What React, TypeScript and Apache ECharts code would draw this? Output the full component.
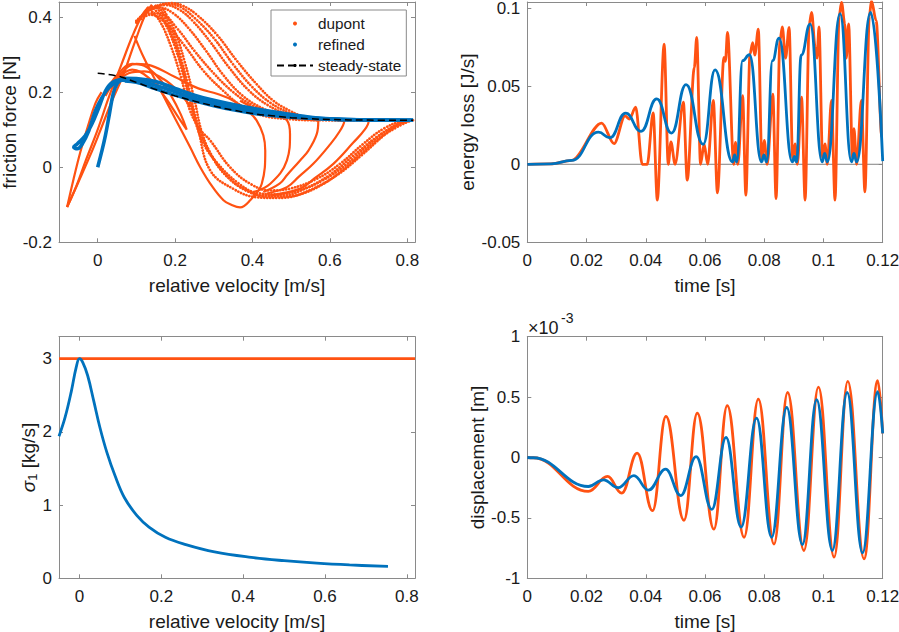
import React, { useEffect, useRef } from "react";
import * as echarts from "echarts";

const ORANGE = "#FF5212";
const BLUE = "#0072BD";
const AXIS = "#8a8a8a";
const TXT = "#1a1a1a";
const FONT = "'Liberation Sans', Arial, Helvetica, sans-serif";

// ---------- tick labels ----------
const velTicks = [0, 0.2, 0.4, 0.6, 0.8];
const forceTicks = [-0.2, 0, 0.2, 0.4];
const timeTicks = [0, 0.02, 0.04, 0.06, 0.08, 0.1, 0.12];
const lossTicks = [-0.05, 0, 0.05, 0.1];
const sigmaTicks = [0, 1, 2, 3];
const dispTicks = [-1, -0.5, 0, 0.5, 1];

// ---------- panel 1: friction force vs relative velocity ----------
const steadyState = [
  [0, 0.25], [0.05, 0.243], [0.1, 0.226], [0.15, 0.207], [0.2, 0.19], [0.25, 0.176],
  [0.3, 0.163], [0.35, 0.152], [0.4, 0.143], [0.45, 0.137], [0.5, 0.132], [0.55, 0.129],
  [0.6, 0.127], [0.7, 0.1255], [0.815, 0.125],
];

// dupont, dense (solid-looking) branches
const dupontFanA = [[-0.079, -0.106], [-0.05, -0.04], [-0.02, 0.03], [0.003, 0.088], [0.037, 0.177], [0.063, 0.238], [0.097, 0.336], [0.123, 0.406], [0.14, 0.433]];
const dupontFanB = [[-0.079, -0.106], [-0.055, -0.05], [-0.03, 0.02], [0.0, 0.1], [0.03, 0.19], [0.06, 0.27], [0.09, 0.35], [0.115, 0.405], [0.13, 0.425]];
const dupontFanC = [[-0.079, -0.106], [-0.062, -0.03], [-0.045, 0.04], [-0.025, 0.11], [-0.006, 0.17], [0.01, 0.2]];
const dupontSmallLoop = [[0.02, 0.2], [0.05, 0.245], [0.089, 0.275], [0.12, 0.27], [0.16, 0.235], [0.19, 0.19], [0.215, 0.14], [0.23, 0.1], [0.209, 0.132], [0.175, 0.185], [0.132, 0.238], [0.089, 0.26], [0.05, 0.235], [0.02, 0.2]];
const dupontSmallArc = [[0.04, 0.21], [0.08, 0.25], [0.12, 0.255], [0.17, 0.235], [0.21, 0.2], [0.24, 0.16]];
const dupontSLoop = [[0.02, 0.19], [0.06, 0.25], [0.1, 0.275], [0.14, 0.27], [0.2, 0.24], [0.26, 0.21], [0.31, 0.195], [0.351, 0.177], [0.39, 0.148], [0.411, 0.124], [0.428, 0.085], [0.433, 0.044], [0.424, -0.044], [0.394, -0.088], [0.368, -0.107], [0.345, -0.1], [0.325, -0.088], [0.295, -0.05], [0.265, 0.0], [0.239, 0.053], [0.2, 0.13], [0.16, 0.21], [0.12, 0.29], [0.095, 0.35]];
const dupontTip50 = [[0.368, 0.177], [0.42, 0.15], [0.454, 0.141], [0.489, 0.125], [0.497, 0.088], [0.489, 0.018], [0.446, -0.044], [0.403, -0.066]];
const dupontTip57 = [[0.5, 0.132], [0.55, 0.126], [0.57, 0.122], [0.566, 0.088], [0.545, 0.045], [0.523, 0.018], [0.49, -0.02], [0.47, -0.044], [0.428, -0.066]];
const dupontTip64 = [[0.58, 0.128], [0.62, 0.125], [0.637, 0.122], [0.625, 0.095], [0.6, 0.06], [0.557, 0.009], [0.52, -0.025], [0.489, -0.053], [0.437, -0.07]];
const dupontTip70 = [[0.65, 0.127], [0.685, 0.125], [0.7, 0.122], [0.69, 0.1], [0.66, 0.065], [0.609, 0.009], [0.56, -0.03], [0.523, -0.057], [0.446, -0.075]];

// dupont, fast (dotted-looking) branches
const dupontArc1 = [[0.12, 0.41], [0.15, 0.428], [0.192, 0.437], [0.22, 0.43], [0.256, 0.406], [0.308, 0.353], [0.36, 0.283], [0.411, 0.221], [0.454, 0.177], [0.497, 0.15], [0.523, 0.138], [0.56, 0.13], [0.62, 0.127], [0.7, 0.1255], [0.78, 0.125], [0.815, 0.125]];
const dupontArc5 = [[0.115, 0.405], [0.145, 0.426], [0.185, 0.435], [0.215, 0.426], [0.25, 0.398], [0.3, 0.344], [0.35, 0.274], [0.4, 0.213], [0.447, 0.171], [0.493, 0.146], [0.53, 0.134], [0.58, 0.128], [0.65, 0.126], [0.75, 0.125]];
const dupontArc2 = [[0.11, 0.4], [0.14, 0.422], [0.175, 0.432], [0.21, 0.42], [0.245, 0.39], [0.29, 0.335], [0.34, 0.265], [0.39, 0.205], [0.44, 0.165], [0.49, 0.142], [0.54, 0.131], [0.6, 0.127], [0.7, 0.1255], [0.78, 0.125]];
const dupontArc3 = [[0.1, 0.39], [0.13, 0.415], [0.16, 0.425], [0.195, 0.41], [0.235, 0.37], [0.28, 0.31], [0.325, 0.245], [0.375, 0.19], [0.43, 0.155], [0.48, 0.137], [0.54, 0.129], [0.6, 0.126], [0.7, 0.125]];
const dupontArc6 = [[0.1, 0.387], [0.133, 0.41], [0.165, 0.408], [0.205, 0.37], [0.25, 0.31], [0.3, 0.25], [0.35, 0.2], [0.4, 0.165], [0.455, 0.143], [0.52, 0.13], [0.58, 0.126], [0.66, 0.125]];
const dupontArc4 = [[0.1, 0.385], [0.136, 0.406], [0.17, 0.389], [0.222, 0.327], [0.274, 0.256], [0.325, 0.203], [0.377, 0.159], [0.428, 0.137], [0.497, 0.128], [0.57, 0.125], [0.64, 0.125]];
const dupontLow1 = [[0.13, 0.425], [0.16, 0.39], [0.19, 0.32], [0.215, 0.24], [0.239, 0.15], [0.265, 0.1], [0.291, 0.071], [0.342, 0.0], [0.394, -0.044], [0.446, -0.062], [0.497, -0.057], [0.566, -0.031], [0.626, 0.009], [0.686, 0.062], [0.738, 0.102], [0.79, 0.124], [0.811, 0.126]];
const dupontLow4 = [[0.14, 0.428], [0.17, 0.39], [0.2, 0.32], [0.225, 0.23], [0.25, 0.13], [0.275, 0.06], [0.31, 0.01], [0.36, -0.04], [0.41, -0.068], [0.46, -0.072], [0.52, -0.062], [0.58, -0.036], [0.64, 0.005], [0.7, 0.06], [0.75, 0.1], [0.79, 0.122]];
const dupontLow2 = [[0.15, 0.43], [0.18, 0.38], [0.21, 0.3], [0.235, 0.2], [0.26, 0.11], [0.29, 0.04], [0.33, -0.02], [0.38, -0.06], [0.43, -0.075], [0.48, -0.075], [0.54, -0.055], [0.6, -0.02], [0.66, 0.03], [0.72, 0.08], [0.77, 0.112], [0.8, 0.125]];
const dupontLow5 = [[0.17, 0.42], [0.2, 0.36], [0.225, 0.28], [0.25, 0.18], [0.27, 0.09], [0.3, 0.02], [0.34, -0.03], [0.39, -0.065], [0.44, -0.078], [0.49, -0.078], [0.55, -0.06], [0.62, -0.02], [0.68, 0.03], [0.74, 0.085], [0.78, 0.115], [0.815, 0.125]];
const dupontLow3 = [[0.16, 0.425], [0.19, 0.37], [0.215, 0.29], [0.24, 0.19], [0.26, 0.1], [0.291, -0.009], [0.351, -0.058], [0.411, -0.08], [0.463, -0.082], [0.515, -0.075], [0.584, -0.044], [0.652, 0.009], [0.72, 0.071], [0.772, 0.106], [0.811, 0.125]];

// refined
const refinedStart = [[0, 0], [0.01, 0.04], [0.02, 0.085], [0.03, 0.14], [0.04, 0.195], [0.05, 0.222], [0.065, 0.235]];
const refinedLoop = [[0.063, 0.234], [0.037, 0.225], [0.02, 0.203], [0.003, 0.159], [-0.015, 0.115], [-0.032, 0.084], [-0.053, 0.062], [-0.062, 0.053], [-0.053, 0.049], [-0.04, 0.062], [-0.023, 0.097], [-0.006, 0.15], [0.011, 0.185], [0.029, 0.212], [0.05, 0.228]];
const refinedUpper = [[0.05, 0.228], [0.07, 0.237], [0.1, 0.236], [0.15, 0.228], [0.2, 0.21], [0.25, 0.192], [0.3, 0.178], [0.35, 0.167], [0.4, 0.157], [0.45, 0.148], [0.5, 0.14], [0.55, 0.133], [0.6, 0.129], [0.7, 0.126], [0.815, 0.125]];
const refinedMid = [[0.06, 0.232], [0.1, 0.231], [0.15, 0.218], [0.2, 0.201], [0.25, 0.184], [0.3, 0.171], [0.35, 0.16], [0.4, 0.15], [0.45, 0.143], [0.5, 0.136], [0.6, 0.128], [0.7, 0.126], [0.815, 0.125]];
const refinedLower = [[0.07, 0.23], [0.1, 0.226], [0.15, 0.209], [0.2, 0.192], [0.25, 0.177], [0.3, 0.164], [0.35, 0.153], [0.4, 0.144], [0.45, 0.138], [0.5, 0.133], [0.6, 0.128], [0.7, 0.126], [0.815, 0.125]];

// ---------- panel 2: energy loss vs time ----------
const lossDupont = [
  [0, 0], [0.008, 0.0003], [0.015, 0.0025], [0.0251, 0.0264], [0.0293, 0.0132], [0.033, 0.031],
  [0.0345, 0.029], [0.0366, 0.0366], [0.0388, 0], [0.0405, 0], [0.0425, 0.033], [0.0439, -0.023],
  [0.0462, 0.077], [0.0476, 0], [0.0485, 0.0143], [0.0499, 0], [0.0527, 0.0398], [0.054, -0.0102],
  [0.0564, 0.062], [0.0572, 0.0813], [0.0585, 0], [0.0597, 0.013], [0.0609, 0], [0.0628, 0.041],
  [0.0642, -0.0183], [0.0664, 0.0685], [0.0669, 0.066], [0.0676, 0.0845], [0.0697, 0], [0.0703, 0.014],
  [0.0711, 0], [0.0727, 0.044], [0.0738, -0.0198], [0.0752, 0.0707], [0.0761, 0.078], [0.0768, 0.07],
  [0.078, 0.0866], [0.0792, 0.003], [0.08, 0.0153], [0.081, 0], [0.0829, 0.045], [0.084, -0.022],
  [0.0853, 0.079], [0.0861, 0.088], [0.0872, 0.068], [0.0884, 0.0877], [0.0896, 0.004], [0.0904, 0.013],
  [0.0912, 0], [0.0926, 0.043], [0.0938, -0.023], [0.0952, 0.09], [0.096, 0.0973], [0.0972, 0.075],
  [0.0978, 0.068], [0.0985, 0.088], [0.0997, 0.004], [0.1005, 0.013], [0.1013, 0], [0.1027, 0.041],
  [0.1039, -0.023], [0.1053, 0.095], [0.1061, 0.1037], [0.1072, 0.09], [0.1077, 0.068], [0.1085, 0.09],
  [0.1098, 0.004], [0.1103, 0.0228], [0.1112, 0], [0.1128, 0.041], [0.114, -0.0177], [0.1155, 0.095],
  [0.1162, 0.1047], [0.1178, 0.092], [0.1197, 0.0175], [0.12, 0.0175],
];
const lossRefined = [
  [0, 0], [0.008, 0.0003], [0.015, 0.0025], [0.024, 0.0206], [0.0279, 0.017], [0.0332, 0.0328],
  [0.0384, 0.0211], [0.0437, 0.0419], [0.0487, 0.02], [0.0536, 0.0511], [0.0594, 0.0128], [0.0634, 0.0605],
  [0.0693, 0.0015], [0.07, 0.006], [0.0707, 0.0015], [0.0727, 0.0664], [0.075, 0.0702], [0.0791, 0.0015],
  [0.0799, 0.006], [0.0808, 0.0015], [0.0828, 0.0664], [0.085, 0.0809], [0.0895, 0.0015], [0.0902, 0.005],
  [0.0909, 0.0015], [0.0925, 0.07], [0.0955, 0.0898], [0.0996, 0.0015], [0.1004, 0.007], [0.1013, 0.0015],
  [0.1056, 0.0966], [0.1095, 0.0015], [0.1103, 0.007], [0.1112, 0.0015], [0.1159, 0.0973], [0.12, 0.002],
];
const lossZero = [[0, 0], [0.12, 0]];

// ---------- panel 3: sigma_1 vs relative velocity ----------
const sigmaDupont = [[-0.05, 3], [0.82, 3]];
const sigmaRefined = [
  [-0.05, 1.94], [-0.035, 2.2], [-0.02, 2.55], [-0.008, 2.88], [0, 3.0], [0.008, 2.95], [0.02, 2.77],
  [0.035, 2.42], [0.05, 2.06], [0.067, 1.72], [0.087, 1.4], [0.11, 1.1], [0.14, 0.86], [0.17, 0.7],
  [0.21, 0.56], [0.26, 0.46], [0.33, 0.36], [0.42, 0.285], [0.5, 0.24], [0.58, 0.206], [0.66, 0.182],
  [0.754, 0.162],
];

// ---------- panel 4: displacement (x 1e-3 m) vs time ----------
const dispDupont = [
  [0, 0], [0.002, -0.002], [0.0206, -0.28], [0.0271, -0.157], [0.0319, -0.295], [0.0371, 0.036], [0.0423, -0.44],
  [0.0468, 0.34], [0.0529, -0.52], [0.0574, 0.367], [0.063, -0.593], [0.0675, 0.43], [0.0732, -0.66],
  [0.078, 0.483], [0.0833, -0.717], [0.0879, 0.538], [0.0934, -0.77], [0.0983, 0.583], [0.1036, -0.825],
  [0.1082, 0.63], [0.1137, -0.84], [0.1183, 0.637], [0.12, 0.2],
];
const dispRefined = [
  [0, 0], [0.002, -0.002], [0.0206, -0.24], [0.0257, -0.185], [0.0307, -0.25], [0.036, -0.15], [0.0409, -0.27],
  [0.0467, -0.097], [0.0518, -0.315], [0.057, 0.008], [0.0623, -0.43], [0.0671, 0.166], [0.0722, -0.576],
  [0.0774, 0.326], [0.0825, -0.66], [0.0876, 0.414], [0.0929, -0.72], [0.0977, 0.478], [0.103, -0.77],
  [0.108, 0.538], [0.1132, -0.79], [0.1183, 0.546], [0.12, 0.2],
];

const dupontSolid = [dupontFanA, dupontFanB, dupontFanC, dupontSmallLoop, dupontSmallArc, dupontSLoop, dupontTip50, dupontTip57, dupontTip64, dupontTip70];
const dupontDotted = [dupontArc1, dupontArc5, dupontArc2, dupontArc3, dupontArc6, dupontArc4, dupontLow1, dupontLow4, dupontLow2, dupontLow5, dupontLow3];
const refinedBand = [refinedStart, refinedLoop, refinedUpper, refinedMid, refinedLower];

function makeAxes(g: number, xr: number[], yr: number[], xt: number[], yt: number[], xName: string, yName: string, xGap: number, yGap: number, yRich?: any) {
  const line = { show: true, onZero: false, lineStyle: { color: AXIS, width: 1 } };
  const tick = (vals: number[]) => ({ show: true, inside: true, length: 4, lineStyle: { color: AXIS, width: 1 }, customValues: vals });
  const label = (vals: number[], margin: number) => ({
    show: true, customValues: vals, fontSize: 17, color: TXT, fontFamily: FONT, margin,
    formatter: (v: number) => String(v),
  });
  const nameStyle = { fontSize: 19, color: TXT, fontFamily: FONT };
  const xs = [
    {
      type: "value", gridIndex: g, position: "bottom", min: xr[0], max: xr[1],
      axisLine: line, axisTick: tick(xt), axisLabel: label(xt, 10), splitLine: { show: false },
      name: xName, nameLocation: "middle", nameGap: xGap, nameTextStyle: nameStyle,
    },
    {
      type: "value", gridIndex: g, position: "top", min: xr[0], max: xr[1],
      axisLine: line, axisTick: tick(xt), axisLabel: { show: false }, splitLine: { show: false },
    },
  ];
  const ys = [
    {
      type: "value", gridIndex: g, position: "left", min: yr[0], max: yr[1],
      axisLine: line, axisTick: tick(yt), axisLabel: label(yt, 7), splitLine: { show: false },
      name: yName, nameLocation: "middle", nameGap: yGap,
      nameTextStyle: yRich ? { ...nameStyle, rich: yRich } : nameStyle,
    },
    {
      type: "value", gridIndex: g, position: "right", min: yr[0], max: yr[1],
      axisLine: line, axisTick: tick(yt), axisLabel: { show: false }, splitLine: { show: false },
    },
  ];
  return { xs, ys };
}

function lineSeries(name: string, data: number[][], g: number, color: string, width: number, extra: any = {}) {
  return {
    type: "line", name, data, xAxisIndex: 2 * g, yAxisIndex: 2 * g,
    symbol: "none", showSymbol: false, silent: true, animation: false,
    itemStyle: { color },
    lineStyle: { color, width, ...(extra.lineStyle || {}) },
    ...Object.fromEntries(Object.entries(extra).filter(([k]) => k !== "lineStyle")),
  };
}

export default function App() {
  const ref = useRef<HTMLDivElement>(null);
  useEffect(() => {
    document.body.style.margin = "0";
    if (!ref.current) return;
    const chart = echarts.init(ref.current, undefined, { renderer: "svg" });

    const a1 = makeAxes(0, [-0.1, 0.82], [-0.2, 0.44], velTicks, forceTicks, "relative velocity [m/s]", "friction force [N]", 34, 39);
    const a2 = makeAxes(1, [0, 0.12], [-0.05, 0.104], timeTicks, lossTicks, "time [s]", "energy loss [J/s]", 34, 50);
    const a3 = makeAxes(2, [-0.05, 0.82], [0, 3.3], velTicks, sigmaTicks, "relative velocity [m/s]",
      "{s|σ}{sub|1}{m| [kg/s]}", 34, 19, {
        s: { fontSize: 19, fontStyle: "italic", fontFamily: FONT, color: TXT, lineHeight: 20, verticalAlign: "top" },
        m: { fontSize: 19, fontFamily: FONT, color: TXT, lineHeight: 20, verticalAlign: "top" },
        sub: { fontSize: 13, fontFamily: FONT, color: TXT, lineHeight: 16, verticalAlign: "bottom" },
      });
    const a4 = makeAxes(3, [0, 0.12], [-1, 1], timeTicks, dispTicks, "time [s]", "displacement [m]", 34, 40);

    const series: any[] = [];
    dupontSolid.forEach((d) => series.push(lineSeries("dupont", d, 0, ORANGE, 2.2, { smooth: 0.4, z: 2 })));
    dupontDotted.forEach((d) => series.push(lineSeries("dupont", d, 0, ORANGE, 2.7, { smooth: 0.4, z: 2, lineStyle: { type: [0.1, 2.9], cap: "round" } })));
    refinedBand.forEach((d) => series.push(lineSeries("refined", d, 0, BLUE, 3.6, { smooth: 0.4, z: 3 })));
    series.push(lineSeries("steady-state", steadyState, 0, "#000000", 1.5, { smooth: 0.4, z: 4, lineStyle: { type: [7, 4] } }));

    series.push(lineSeries("zero", lossZero, 1, "#808080", 1, { z: 1 }));
    series.push(lineSeries("dupont", lossDupont, 1, ORANGE, 2.8, { smooth: 0.32, smoothMonotone: "x", z: 2 }));
    series.push(lineSeries("refined", lossRefined, 1, BLUE, 2.8, { smooth: 0.48, smoothMonotone: "x", z: 3 }));

    series.push(lineSeries("dupont", sigmaDupont, 2, ORANGE, 2.8, { z: 2 }));
    series.push(lineSeries("refined", sigmaRefined, 2, BLUE, 2.8, { smooth: 0.4, z: 3 }));

    series.push(lineSeries("dupont", dispDupont, 3, ORANGE, 2.8, { smooth: 0.42, smoothMonotone: "x", z: 2 }));
    series.push(lineSeries("refined", dispRefined, 3, BLUE, 2.8, { smooth: 0.42, smoothMonotone: "x", z: 3 }));

    chart.setOption({
      animation: false,
      backgroundColor: "#ffffff",
      textStyle: { fontFamily: FONT },
      grid: [
        { left: 59, top: 2, width: 356, height: 240.3, outerBoundsMode: "none" },
        { left: 527.3, top: 2, width: 355.4, height: 240.3, outerBoundsMode: "none" },
        { left: 59, top: 336.7, width: 356, height: 241.6, outerBoundsMode: "none" },
        { left: 527.3, top: 336.7, width: 355.4, height: 241.6, outerBoundsMode: "none" },
      ],
      xAxis: [...a1.xs, ...a2.xs, ...a3.xs, ...a4.xs],
      yAxis: [...a1.ys, ...a2.ys, ...a3.ys, ...a4.ys],
      legend: {
        show: true, orient: "vertical", left: 271, top: 10,
        itemWidth: 36, itemHeight: 4, itemGap: 6,
        padding: [6, 5, 3, 5],
        borderColor: AXIS, borderWidth: 1, backgroundColor: "#ffffff",
        textStyle: { fontSize: 15.3, color: TXT, fontFamily: FONT },
        selectedMode: false,
        data: [
          { name: "dupont", icon: "circle" },
          { name: "refined", icon: "circle" },
          { name: "steady-state" },
        ],
      },
      graphic: [
        { type: "text", left: 528, top: 319, style: { text: "×10", fontSize: 18, fill: TXT, fontFamily: FONT } },
        { type: "text", left: 561, top: 311, style: { text: "-3", fontSize: 14, fill: TXT, fontFamily: FONT } },
      ],
      series,
    });
    return () => chart.dispose();
  }, []);
  return <div ref={ref} style={{ width: 899, height: 632 }} />;
}
